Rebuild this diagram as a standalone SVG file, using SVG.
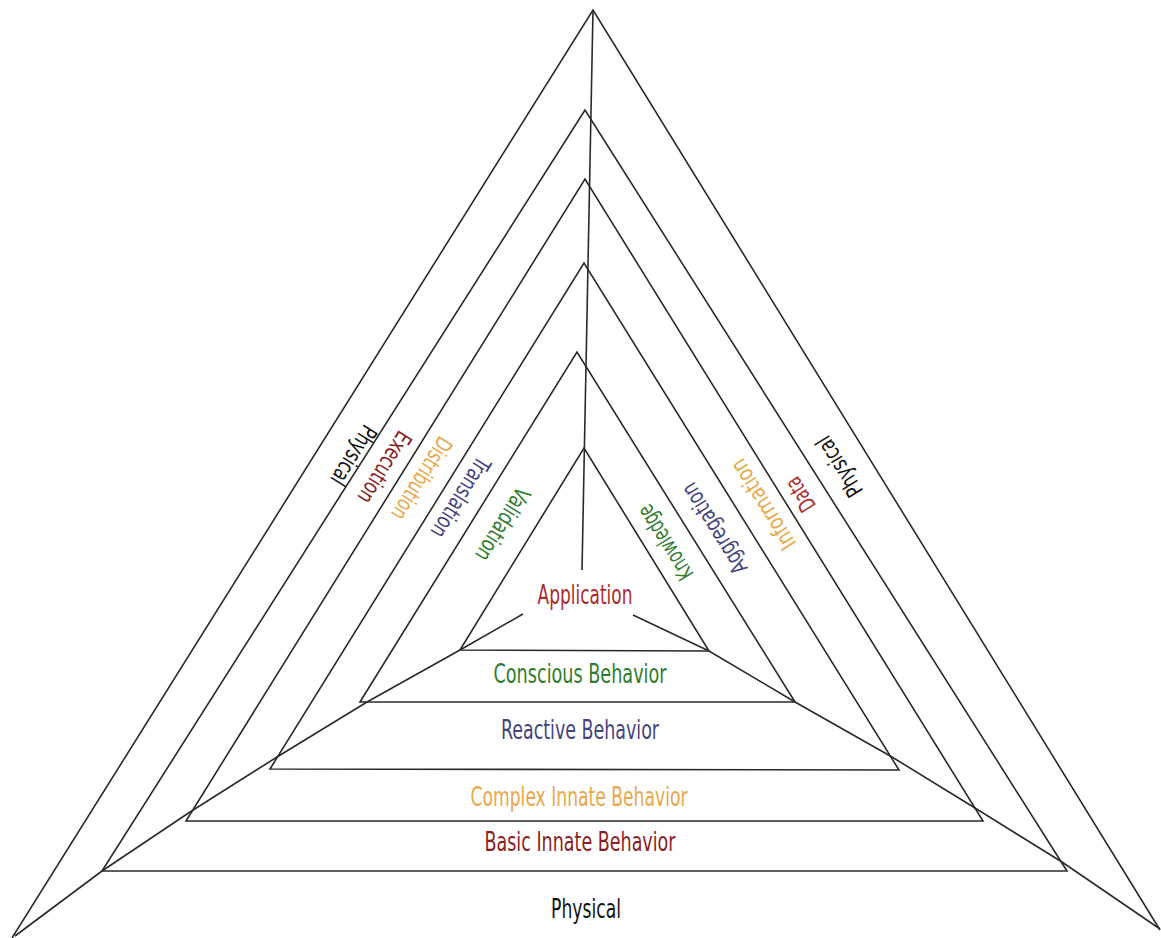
<svg xmlns="http://www.w3.org/2000/svg" width="1161" height="938" viewBox="0 0 1161 938">
<style>
.e{fill:none;stroke:#2a2a2a;stroke-width:1.6;stroke-linejoin:miter}
text{font-family:"Liberation Sans Narrow","DejaVu Sans Condensed","Liberation Sans",sans-serif;font-size:26px;text-anchor:middle}
.rt text{font-size:23px}
.red{fill:#ad2a2e}.dred{fill:#8a1e22}.grn{fill:#2f7d2f}.blu{fill:#45457e}.org{fill:#e8a84a}.blk{fill:#111}
</style>
<rect width="1161" height="938" fill="#fff"/>
<g id="layer-physical">
<polyline class="e" points="12,938 593,10 1160,930"/>
<text class="blk" x="586" y="918" textLength="70" lengthAdjust="spacingAndGlyphs">Physical</text>
<g class="rt"><g transform="translate(353,455) rotate(122)"><text class="blk" y="7" textLength="66" lengthAdjust="spacingAndGlyphs">Physical</text></g>
<g transform="translate(840,466) rotate(238)"><text class="blk" y="7" textLength="67" lengthAdjust="spacingAndGlyphs">Physical</text></g></g>
</g>
<g id="layer-basic">
<polygon class="e" points="102,871 585,110 1067,871"/>
<text class="dred" x="580" y="851" textLength="191" lengthAdjust="spacingAndGlyphs">Basic Innate Behavior</text>
<g class="rt"><g transform="translate(384,467) rotate(122)"><text class="dred" y="7" textLength="80" lengthAdjust="spacingAndGlyphs">Execution</text></g>
<g transform="translate(801,494) rotate(238)"><text class="red" y="7" textLength="36" lengthAdjust="spacingAndGlyphs">Data</text></g></g>
</g>
<g id="layer-complex">
<polygon class="e" points="186,821 585,179 983,821"/>
<text class="org" x="579" y="806" textLength="217" lengthAdjust="spacingAndGlyphs">Complex Innate Behavior</text>
<g class="rt"><g transform="translate(421,478) rotate(122)"><text class="org" y="7" textLength="93" lengthAdjust="spacingAndGlyphs">Distribution</text></g>
<g transform="translate(764,504) rotate(238)"><text class="org" y="7" textLength="102" lengthAdjust="spacingAndGlyphs">Information</text></g></g>
</g>
<g id="layer-reactive">
<polygon class="e" points="270,769 584,263 899,770"/>
<text class="blu" x="580" y="739" textLength="158" lengthAdjust="spacingAndGlyphs">Reactive Behavior</text>
<g class="rt"><g transform="translate(460,497) rotate(122)"><text class="blu" y="7" textLength="91" lengthAdjust="spacingAndGlyphs">Translation</text></g>
<g transform="translate(715,528) rotate(238)"><text class="blu" y="7" textLength="103" lengthAdjust="spacingAndGlyphs">Aggregation</text></g></g>
</g>
<g id="layer-conscious">
<polygon class="e" points="360,702 577,352 795,702"/>
<text class="grn" x="580" y="683" textLength="173" lengthAdjust="spacingAndGlyphs">Conscious Behavior</text>
<g class="rt"><g transform="translate(502,524) rotate(122)"><text class="grn" y="7" textLength="82" lengthAdjust="spacingAndGlyphs">Validation</text></g>
<g transform="translate(666,542) rotate(238)"><text class="grn" y="7" textLength="84" lengthAdjust="spacingAndGlyphs">Knowledge</text></g></g>
</g>
<g id="layer-application">
<polygon class="e" points="460,650 584,448 709,651"/>
<text class="red" x="585" y="604" textLength="95" lengthAdjust="spacingAndGlyphs">Application</text>
</g>
<g id="connectors">
<polyline class="e" points="15,936 102,871 190,812 277,757 367,702 460,650 523,614"/>
<polyline class="e" points="1160,929 1062,862 975,808 892,757 795,702 709,651 633,615"/>
<line class="e" x1="593" y1="10" x2="582" y2="570"/>
</g>
</svg>
